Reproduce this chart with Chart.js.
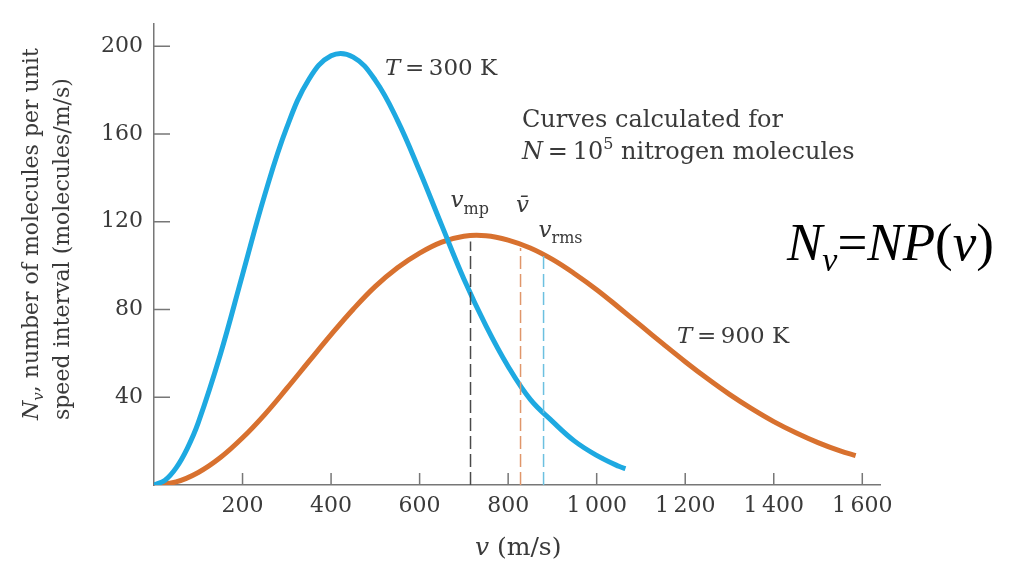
<!DOCTYPE html>
<html>
<head>
<meta charset="utf-8">
<script src="https://cdn.jsdelivr.net/npm/chart.js@4.4.1/dist/chart.umd.min.js"></script>
<style>
  html, body { margin: 0; background: #fff; }
</style>
</head>
<body>
<canvas id="mycanvas" width="1010" height="565"></canvas>
<script>
// T = 300 K curve
var speeds300 = [0, 25, 50, 75, 100, 150, 200, 250, 300, 350, 400, 450, 500, 550, 600, 650, 700, 750, 800, 850, 900, 950, 1000, 1050, 1065];
var counts300 = [0, 2.2, 7.8, 16.6, 28.4, 59.6, 95.9, 132.1, 163.0, 184.9, 195.6, 195.0, 184.4, 166.2, 143.1, 118.3, 93.9, 72.5, 54.0, 39.0, 29.0, 20.0, 13.5, 8.5, 7.5];

// T = 900 K curve
var speeds900 = [0, 50, 100, 150, 200, 250, 300, 350, 400, 450, 500, 550, 600, 650, 700, 750, 800, 850, 900, 950, 1000, 1050, 1100, 1150, 1200, 1250, 1300, 1350, 1400, 1450, 1500, 1550, 1585];
var counts900 = [0, 1.4, 5.7, 12.5, 21.5, 32.1, 44.0, 56.3, 68.5, 80.1, 90.5, 99.0, 105.7, 110.7, 113.4, 113.6, 111.6, 108.0, 102.8, 96.3, 89.0, 80.9, 72.6, 64.3, 56.2, 48.5, 41.3, 34.8, 28.9, 23.8, 19.3, 15.5, 13.4];

// v_mp, v-bar, v_rms markers (dashed)
var markSpeeds = [715, 828, 880];
var markTops = [111, 108, 106];
var markColors = ['#4a4a4a', '#e0966a', '#6cc0e0'];

var xTicks = [200, 400, 600, 800, 1000, 1200, 1400, 1600];
var xTickLabels = ['200', '400', '600', '800', '1\u2009000', '1\u2009200', '1\u2009400', '1\u2009600'];
var yTicks = [40, 80, 120, 160, 200];

var blue = '#1ea9e1';
var orange = '#d8712f';
var ink = '#3a3a3a';
var serif = '"DejaVu Serif", serif';

function toPoints(xs, ys) {
    var pts = [];
    for (var i = 0; i < xs.length; i++) pts.push({x: xs[i], y: ys[i]});
    return pts;
}

// draw a row of differently styled text pieces: [text, font, dy]
function drawRuns(ctx, x, y, parts, align) {
    var w = 0;
    parts.forEach(function(p) { ctx.font = p[1]; w += ctx.measureText(p[0]).width; });
    var cx = align === 'center' ? x - w / 2 : x;
    parts.forEach(function(p) {
        ctx.font = p[1];
        ctx.fillText(p[0], cx, y + (p[2] || 0));
        cx += ctx.measureText(p[0]).width;
    });
}

var datasets = [];
for (var i = 0; i < markSpeeds.length; i++) {
    datasets.push({
        data: [{x: markSpeeds[i], y: 0}, {x: markSpeeds[i], y: markTops[i]}],
        borderColor: markColors[i],
        borderWidth: 1.5,
        borderDash: [13, 5],
        pointRadius: 0,
        fill: false
    });
}
datasets.push({
    label: 'T = 300 K',
    data: toPoints(speeds300, counts300),
    borderColor: blue,
    borderWidth: 5,
    pointRadius: 0,
    tension: 0.4,
    fill: false
});
datasets.push({
    label: 'T = 900 K',
    data: toPoints(speeds900, counts900),
    borderColor: orange,
    borderWidth: 5,
    pointRadius: 0,
    tension: 0.4,
    fill: false
});

var extras = {
    id: 'extras',
    afterDraw: function(chart) {
        var ctx = chart.ctx;
        var xs = chart.scales.x, ys = chart.scales.y;
        var area = chart.chartArea;
        ctx.save();
        // inward tick marks
        ctx.strokeStyle = '#777';
        ctx.lineWidth = 1.5;
        ctx.beginPath();
        xTicks.forEach(function(v) {
            var px = xs.getPixelForValue(v);
            ctx.moveTo(px, area.bottom);
            ctx.lineTo(px, area.bottom - 12);
        });
        yTicks.forEach(function(v) {
            var py = ys.getPixelForValue(v);
            ctx.moveTo(area.left, py);
            ctx.lineTo(area.left + 16, py);
        });
        ctx.stroke();

        ctx.fillStyle = ink;
        ctx.textBaseline = 'alphabetic';
        var reg = '23px ' + serif, it = 'italic 23px ' + serif;
        var big = '24px ' + serif, bigIt = 'italic 24px ' + serif;
        var sub = 'italic 15px ' + serif, subr = '16px ' + serif;

        drawRuns(ctx, 385, 75, [['T', it], ['\u2009=\u2009300 K', reg]]);
        drawRuns(ctx, 522, 127, [['Curves calculated for', big]]);
        drawRuns(ctx, 522, 159, [['N', bigIt], ['\u2009=\u200910', big], ['5', subr, -10], [' nitrogen molecules', big]]);
        drawRuns(ctx, 677, 343, [['T', it], ['\u2009=\u2009900 K', reg]]);

        // speed marker labels
        drawRuns(ctx, xs.getPixelForValue(markSpeeds[0]) - 20, 207, [['v', it], ['mp', subr, 7]]);
        drawRuns(ctx, xs.getPixelForValue(markSpeeds[1]) + 2, 212, [['v\u0304', it]], 'center');
        drawRuns(ctx, xs.getPixelForValue(markSpeeds[2]) - 5, 237, [['v', it], ['rms', subr, 6]]);

        // axis titles
        drawRuns(ctx, xs.getPixelForValue(800) + 10, 555, [['v', 'italic 25px ' + serif], [' (m/s)', '25px ' + serif]], 'center');
        ctx.save();
        ctx.translate(38, 420);
        ctx.rotate(-Math.PI / 2);
        drawRuns(ctx, 0, 0, [['N', 'italic 22px ' + serif], ['v', sub, 5], [', number of molecules per unit', '22px ' + serif]]);
        ctx.restore();
        ctx.save();
        ctx.translate(69, 420);
        ctx.rotate(-Math.PI / 2);
        drawRuns(ctx, 0, 0, [['speed interval (molecules/m/s)', '22px ' + serif]]);
        ctx.restore();

        // formula
        ctx.fillStyle = '#000';
        var fIt = 'italic 53px "Liberation Serif", serif';
        var fRg = '53px "Liberation Serif", serif';
        drawRuns(ctx, 787, 260, [['N', fIt], ['v', 'italic 34px "Liberation Serif", serif', 11], ['=', fRg], ['NP', fIt], ['(', fRg], ['v', fIt], [')', fRg]]);
        ctx.restore();
    }
};

var ctx = document.getElementById('mycanvas');
var chart = new Chart(ctx, {
    type: 'line',
    data: { datasets: datasets },
    options: {
        responsive: false,
        animation: false,
        devicePixelRatio: 1,
        layout: { padding: { left: 0, right: 130, top: 14, bottom: 0 } },
        plugins: { legend: { display: false }, tooltip: { enabled: false } },
        scales: {
            x: {
                type: 'linear',
                min: 0,
                max: 1640,
                afterFit: function(scale) { scale.height = 80; },
                afterBuildTicks: function(scale) {
                    scale.ticks = xTicks.map(function(v) { return {value: v}; });
                },
                ticks: {
                    color: ink,
                    padding: 8,
                    maxRotation: 0,
                    autoSkip: false,
                    font: { family: 'DejaVu Serif', size: 22 },
                    callback: function(value) { return xTickLabels[xTicks.indexOf(value)]; }
                },
                grid: { display: true, drawOnChartArea: false, drawTicks: false },
                border: { display: true, color: '#777', width: 1.5 }
            },
            y: {
                type: 'linear',
                min: 0,
                max: 210,
                afterFit: function(scale) { scale.width = 154; },
                afterBuildTicks: function(scale) {
                    scale.ticks = yTicks.map(function(v) { return {value: v}; });
                },
                ticks: {
                    color: ink,
                    padding: 11,
                    autoSkip: false,
                    font: { family: 'DejaVu Serif', size: 22 }
                },
                grid: { display: true, drawOnChartArea: false, drawTicks: false },
                border: { display: true, color: '#777', width: 1.5 }
            }
        }
    },
    plugins: [extras]
});
</script>
</body>
</html>
